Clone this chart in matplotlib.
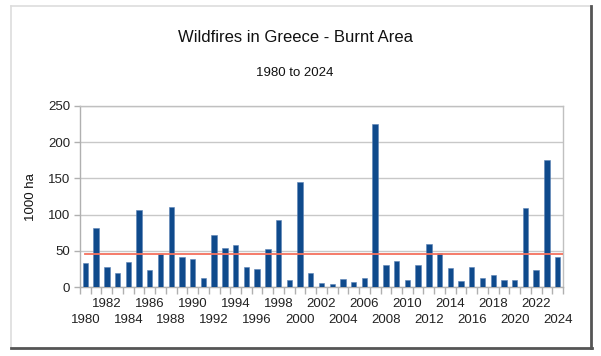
import matplotlib
matplotlib.use("Agg")
import matplotlib.pyplot as plt
from matplotlib.lines import Line2D
import matplotlib.transforms as mtransforms
import numpy as np

plt.rcParams['font.family'] = ['Liberation Sans', 'DejaVu Sans']

years = list(range(1980, 2025))
burnt_area = [33, 82, 28, 20, 34, 106, 24, 46, 111, 42,
              39, 13, 72, 54, 58, 28, 25, 53, 93, 9,
              145, 19, 6, 4, 11, 7, 13, 225, 30, 36,
              9, 30, 60, 47, 26, 8, 27, 13, 16, 9,
              10, 109, 24, 176, 42]
average_value = 46
y_ticks = [0, 50, 100, 150, 200, 250]

W, H = 601, 356
fig = plt.figure(figsize=(W / 100, H / 100), dpi=100)
ax = fig.add_axes([80 / W, 1 - 287 / H, (563 - 80) / W, (287 - 106) / H])

x = np.arange(len(years))
ax.bar(x, burnt_area, width=0.5, color='#0f4a8c', edgecolor='#5b82b5', linewidth=0.4, zorder=3)
ax.plot([x[0], x[-1] + 0.5], [average_value, average_value], color='#f4715e', linewidth=1.3, zorder=4)

ax.set_xlim(-0.5, len(years) - 0.5)
ax.set_ylim(0, 250)
ax.set_yticks(y_ticks)
ax.set_yticklabels([str(v) for v in y_ticks], fontsize=9.5, color='#222222')
ax.yaxis.grid(True, color='#c8c8c8', linewidth=1, zorder=0)
ax.tick_params(axis='y', length=4, color='#b0b0b0', width=1, pad=3)

ax.set_xticks([])
ax.set_xticks(np.arange(-0.5, len(years), 1), minor=True)
ax.tick_params(axis='x', which='minor', length=5, color='#b0b0b0', width=1)

trans = mtransforms.blended_transform_factory(ax.transData, fig.transFigure)
for i, y in enumerate(years):
    if y % 2 != 0:
        continue
    row_y = 304 if (y - 1980) % 4 == 2 else 320
    ax.text(i, 1 - row_y / H, str(y), transform=trans, ha='center', va='center',
            fontsize=9.5, color='#222222', clip_on=False)

for s in ['left', 'bottom', 'right', 'top']:
    ax.spines[s].set_color('#c0c0c0')
    ax.spines[s].set_linewidth(1)
ax.spines['left'].set_color('#b0b0b0')
ax.spines['bottom'].set_color('#b0b0b0')

fig.text(295 / W, 1 - 37 / H, 'Wildfires in Greece - Burnt Area', ha='center', va='center',
         fontsize=12, color='#111111')
fig.text(295 / W, 1 - 73 / H, '1980 to 2024', ha='center', va='center',
         fontsize=9.5, color='#111111')
fig.text(31 / W, 1 - 197 / H, '1000 ha', ha='center', va='center', rotation=90,
         fontsize=9.5, color='#111111')

# outer frame with shadow
fig.add_artist(Line2D([11 / W, 590 / W], [1 - 6 / H, 1 - 6 / H], color='#dddddd', linewidth=1.2, transform=fig.transFigure))
fig.add_artist(Line2D([11 / W, 11 / W], [1 - 6 / H, 1 - 347 / H], color='#dddddd', linewidth=1.2, transform=fig.transFigure))
fig.add_artist(Line2D([591 / W, 591 / W], [1 - 6 / H, 1 - 348 / H], color='#555555', linewidth=2, transform=fig.transFigure))
fig.add_artist(Line2D([11 / W, 592 / W], [1 - 348 / H, 1 - 348 / H], color='#555555', linewidth=2, transform=fig.transFigure))

fig.savefig('out.png', dpi=100)
